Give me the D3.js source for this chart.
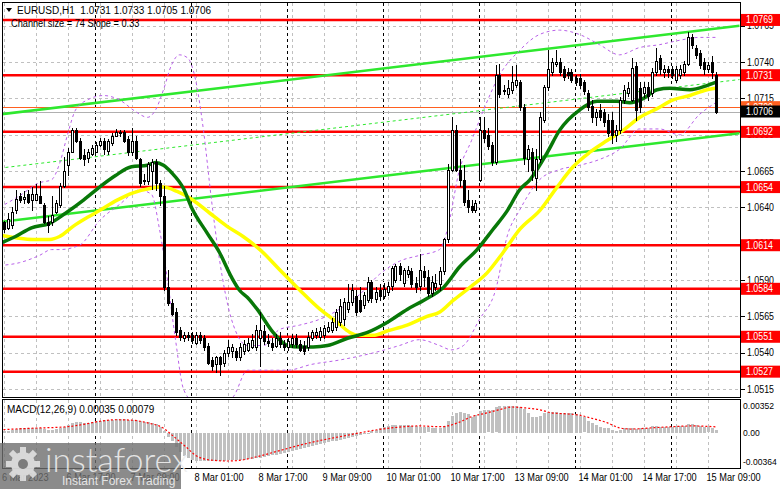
<!DOCTYPE html>
<html>
<head>
<meta charset="utf-8">
<script src="https://cdn.jsdelivr.net/npm/d3@7"></script>
<style>
  body { margin: 0; background: #fff; }
  svg { display: block; font-family: "Liberation Sans", Arial, sans-serif; }
</style>
</head>
<body>
<svg id="chart" width="781" height="489"></svg>
<script>
// EURUSD H1, bar index 0 = 6 Mar 00:00 ... 179 = 15 Mar 11:00
const opens = [1.0628,1.0630,1.0626,1.0628,1.0638,1.0648,1.0646,1.0649,1.0645,1.0645,1.0648,1.0642,1.0630,1.0630,1.0637,1.0642,1.0655,1.0669,1.0678,1.0693,
  1.0686,1.0676,1.0674,1.0677,1.0678,1.0683,1.0686,1.0679,1.0684,1.0689,1.0692,1.0692,1.0687,1.0678,1.0686,1.0673,1.0659,1.0658,1.0665,1.0671,
  1.0657,1.0648,1.0585,1.0574,1.0568,1.0556,1.0550,1.0552,1.0552,1.0547,1.0552,1.0550,1.0545,1.0535,1.0532,1.0537,1.0533,1.0540,1.0541,1.0541,
  1.0537,1.0541,1.0542,1.0544,1.0544,1.0550,1.0555,1.0548,1.0547,1.0545,1.0550,1.0546,1.0544,1.0546,1.0550,1.0546,1.0545,1.0544,1.0550,1.0552,
  1.0551,1.0552,1.0555,1.0556,1.0558,1.0561,1.0563,1.0570,1.0575,1.0579,1.0576,1.0573,1.0576,1.0589,1.0577,1.0583,1.0579,1.0582,1.0586,1.0590,
  1.0600,1.0588,1.0594,1.0596,1.0588,1.0586,1.0596,1.0592,1.0581,1.0585,1.0587,1.0596,1.0618,1.0666,1.0693,1.0666,1.0659,1.0645,1.0641,1.0638,
  1.0659,1.0693,1.0690,1.0683,1.0671,1.0731,1.0720,1.0718,1.0721,1.0724,1.0726,1.0709,1.0673,1.0678,1.0660,1.0673,1.0700,1.0723,1.0733,1.0739,
  1.0740,1.0735,1.0733,1.0733,1.0729,1.0729,1.0726,1.0719,1.0710,1.0702,1.0707,1.0706,1.0700,1.0700,1.0690,1.0693,1.0714,1.0719,1.0714,1.0737,
  1.0722,1.0719,1.0723,1.0719,1.0733,1.0743,1.0733,1.0735,1.0735,1.0728,1.0731,1.0733,1.0739,1.0757,1.0750,1.0746,1.0740,1.0735,1.0740,1.0731];
const highs = [1.0630,1.0631,1.0636,1.0640,1.0652,1.0650,1.0651,1.0652,1.0654,1.0656,1.0658,1.0643,1.0634,1.0648,1.0645,1.0657,1.0675,1.0681,1.0695,1.0695,
  1.0688,1.0680,1.0680,1.0683,1.0685,1.0688,1.0688,1.0687,1.0691,1.0694,1.0693,1.0693,1.0689,1.0695,1.0689,1.0674,1.0663,1.0671,1.0673,1.0673,
  1.0659,1.0655,1.0597,1.0577,1.0571,1.0558,1.0554,1.0554,1.0554,1.0554,1.0554,1.0552,1.0547,1.0537,1.0538,1.0538,1.0542,1.0549,1.0546,1.0543,
  1.0547,1.0549,1.0550,1.0553,1.0559,1.0568,1.0559,1.0553,1.0550,1.0553,1.0554,1.0549,1.0550,1.0553,1.0553,1.0549,1.0548,1.0554,1.0556,1.0557,
  1.0558,1.0559,1.0561,1.0564,1.0570,1.0577,1.0578,1.0587,1.0587,1.0583,1.0585,1.0582,1.0592,1.0590,1.0585,1.0587,1.0588,1.0589,1.0600,1.0601,
  1.0602,1.0598,1.0600,1.0598,1.0592,1.0608,1.0600,1.0597,1.0593,1.0594,1.0599,1.0619,1.0670,1.0702,1.0697,1.0673,1.0669,1.0652,1.0645,1.0645,
  1.0702,1.0702,1.0695,1.0685,1.0738,1.0739,1.0724,1.0728,1.0737,1.0738,1.0728,1.0711,1.0683,1.0681,1.0680,1.0706,1.0724,1.0748,1.0743,1.0748,
  1.0743,1.0737,1.0736,1.0735,1.0731,1.0732,1.0728,1.0721,1.0714,1.0708,1.0711,1.0708,1.0704,1.0706,1.0697,1.0716,1.0724,1.0726,1.0743,1.0740,
  1.0726,1.0726,1.0726,1.0736,1.0750,1.0745,1.0738,1.0737,1.0737,1.0737,1.0738,1.0741,1.0761,1.0759,1.0752,1.0748,1.0743,1.0740,1.0744,1.0733];
const lows = [1.0622,1.0623,1.0625,1.0626,1.0636,1.0644,1.0643,1.0643,1.0638,1.0645,1.0643,1.0629,1.0623,1.0628,1.0636,1.0640,1.0654,1.0662,1.0678,1.0685,
  1.0673,1.0669,1.0671,1.0676,1.0678,1.0682,1.0677,1.0677,1.0683,1.0689,1.0689,1.0685,1.0676,1.0676,1.0673,1.0655,1.0656,1.0656,1.0653,1.0652,
  1.0642,1.0583,1.0573,1.0566,1.0552,1.0549,1.0548,1.0549,1.0547,1.0546,1.0547,1.0542,1.0532,1.0528,1.0527,1.0525,1.0531,1.0538,1.0537,1.0535,
  1.0535,1.0539,1.0541,1.0543,1.0542,1.0531,1.0546,1.0545,1.0542,1.0544,1.0544,1.0542,1.0542,1.0544,1.0544,1.0541,1.0539,1.0542,1.0549,1.0550,
  1.0549,1.0550,1.0554,1.0554,1.0556,1.0559,1.0559,1.0568,1.0573,1.0566,1.0568,1.0571,1.0575,1.0575,1.0575,1.0576,1.0578,1.0580,1.0583,1.0589,
  1.0590,1.0586,1.0592,1.0585,1.0582,1.0583,1.0586,1.0579,1.0579,1.0583,1.0583,1.0594,1.0616,1.0665,1.0665,1.0655,1.0642,1.0637,1.0637,1.0637,
  1.0658,1.0685,1.0680,1.0669,1.0670,1.0716,1.0718,1.0716,1.0719,1.0723,1.0707,1.0670,1.0665,1.0659,1.0652,1.0671,1.0699,1.0721,1.0731,1.0737,
  1.0731,1.0728,1.0729,1.0726,1.0724,1.0722,1.0718,1.0707,1.0699,1.0697,1.0700,1.0696,1.0689,1.0684,1.0686,1.0691,1.0712,1.0717,1.0713,1.0700,
  1.0706,1.0716,1.0714,1.0717,1.0731,1.0732,1.0730,1.0730,1.0729,1.0726,1.0729,1.0731,1.0738,1.0750,1.0743,1.0736,1.0732,1.0733,1.0729,1.0705];
const closes = [1.0626,1.0625,1.0632,1.0637,1.0646,1.0645,1.0647,1.0644,1.0649,1.0649,1.0643,1.0630,1.0628,1.0635,1.0643,1.0655,1.0665,1.0678,1.0693,1.0686,
  1.0674,1.0673,1.0678,1.0681,1.0683,1.0686,1.0680,1.0686,1.0689,1.0692,1.0691,1.0686,1.0678,1.0686,1.0674,1.0657,1.0658,1.0670,1.0671,1.0657,
  1.0648,1.0585,1.0574,1.0567,1.0554,1.0551,1.0552,1.0551,1.0549,1.0552,1.0549,1.0544,1.0533,1.0531,1.0537,1.0532,1.0540,1.0544,1.0544,1.0537,
  1.0544,1.0546,1.0547,1.0549,1.0556,1.0556,1.0548,1.0547,1.0544,1.0550,1.0546,1.0544,1.0548,1.0550,1.0546,1.0542,1.0541,1.0551,1.0554,1.0554,
  1.0555,1.0557,1.0558,1.0561,1.0568,1.0572,1.0575,1.0575,1.0583,1.0568,1.0569,1.0580,1.0589,1.0578,1.0582,1.0579,1.0584,1.0586,1.0598,1.0600,
  1.0594,1.0597,1.0597,1.0587,1.0585,1.0597,1.0592,1.0581,1.0589,1.0588,1.0596,1.0618,1.0666,1.0693,1.0666,1.0659,1.0644,1.0640,1.0638,1.0643,
  1.0693,1.0688,1.0682,1.0671,1.0731,1.0718,1.0721,1.0722,1.0726,1.0728,1.0709,1.0674,1.0680,1.0666,1.0673,1.0702,1.0723,1.0735,1.0740,1.0740,
  1.0733,1.0730,1.0731,1.0728,1.0726,1.0724,1.0720,1.0709,1.0702,1.0706,1.0702,1.0699,1.0691,1.0690,1.0693,1.0714,1.0721,1.0722,1.0736,1.0707,
  1.0709,1.0723,1.0717,1.0733,1.0741,1.0735,1.0735,1.0733,1.0731,1.0735,1.0735,1.0739,1.0757,1.0752,1.0745,1.0738,1.0735,1.0738,1.0733,1.0706];

// moving averages / bands, read as [bar, price]
const maGreen = [[0,1.0615],[4,1.0620],[8,1.0626],[12.5,1.0629],[16.5,1.0636],[21,1.0645],[25,1.0654],[29,1.0662],[33,1.0668],[37,1.0669],[39,1.0671],[41,1.0669],
  [43,1.0664],[46,1.0653],[48,1.0640],[52,1.0622],[55,1.0609],[58,1.0592],[60,1.0583],[62,1.0578],[64.4,1.0570],[68.4,1.0554],[72,1.0545],[75,1.0544],[78.4,1.0544],
  [82,1.0545],[87,1.0550],[92,1.0554],[97,1.0561],[102,1.0570],[106,1.0576],[111,1.0585],[115,1.0599],[119.4,1.0611],[123.4,1.0625],[127,1.0638],[130,1.0652],
  [132.6,1.0659],[137,1.0678],[140,1.0693],[145,1.0707],[149.4,1.0713],[154.4,1.0713],[157.6,1.0712],[161,1.0715],[164.4,1.0721],[167.6,1.0722],[172.6,1.0721],
  [177,1.0724],[179,1.0726]];
const maYellow = [[0,1.0621],[4.4,1.0619],[8.4,1.0618],[12.6,1.0618],[15,1.0620],[18.4,1.0627],[21.9,1.0633],[25.1,1.0638],[29.4,1.0645],[33.4,1.0650],[37.6,1.0653],
  [40.9,1.0654],[44.4,1.0651],[48.4,1.0645],[52.6,1.0636],[56.9,1.0627],[60.9,1.0620],[65.1,1.0611],[70.1,1.0597],[75.1,1.0583],[80.1,1.0570],[84.4,1.0561],
  [87.6,1.0554],[89.4,1.0552],[93.4,1.0552],[96.9,1.0555],[101.9,1.0559],[106.9,1.0565],[110.1,1.0568],[113.4,1.0576],[117.6,1.0585],[121.9,1.0595],[125.9,1.0609],
  [130.1,1.0625],[135.1,1.0638],[139.4,1.0654],[143.4,1.0668],[147.6,1.0678],[151.9,1.0686],[155.9,1.0693],[160.1,1.0702],[164.4,1.0708],[168.4,1.0714],
  [172.6,1.0717],[176.9,1.0721],[179,1.0722]];
const bandUpper = [[0,1.0640],[5,1.0648],[10,1.0657],[13,1.0659],[15,1.0670],[17,1.0690],[19,1.0707],[22,1.0714],[26,1.0717],[30,1.0714],[34,1.0706],[37,1.0702],
  [39,1.0707],[41,1.0721],[43,1.0738],[45,1.0745],[47,1.0743],[49,1.0728],[51,1.0693],[53,1.0645],[55,1.0604],[58,1.0563],[62,1.0545],[66,1.0545],[70,1.0556],
  [75,1.0559],[80,1.0563],[85,1.0570],[90,1.0580],[95,1.0594],[100,1.0603],[105,1.0607],[110,1.0611],[112,1.0625],[115,1.0666],[118,1.0686],[121,1.0707],
  [125,1.0731],[130,1.0748],[135,1.0759],[140,1.0762],[145,1.0759],[150,1.0752],[155,1.0745],[160,1.0750],[165,1.0752],[170,1.0755],[175,1.0757],[179,1.0757]];
const bandLower = [[0,1.0600],[5,1.0602],[10,1.0607],[13,1.0611],[15,1.0611],[20,1.0614],[25,1.0631],[30,1.0642],[35,1.0652],[38,1.0649],[40,1.0625],[42,1.0590],
  [44,1.0549],[46,1.0515],[48,1.0508],[52,1.0508],[58,1.0509],[62,1.0528],[66,1.0528],[72,1.0528],[78,1.0532],[85,1.0535],[95,1.0541],[100,1.0545],[105,1.0549],
  [110,1.0545],[113,1.0542],[116,1.0545],[120,1.0563],[124,1.0583],[127,1.0621],[130,1.0638],[135,1.0659],[140,1.0666],[145,1.0669],[150,1.0673],[155,1.0680],
  [160,1.0694],[165,1.0694],[170,1.0690],[175,1.0704],[179,1.0712]];
// regression channel (bar, price) at both ends
const channelUpper = [[0,1.0704],[185,1.0765]];
const channelLower = [[0,1.0630],[185,1.0691]];

// horizontal levels
const levels = [1.0769, 1.0731, 1.0692, 1.0654, 1.0614, 1.0584, 1.0551, 1.0527];
const priceTicks = [1.0765, 1.0740, 1.0715, 1.0690, 1.0665, 1.0640, 1.0615, 1.0590, 1.0565, 1.0540, 1.0515];
const askPrice = 1.0709, bidPrice = 1.0706;

// MACD(12,26,9) histogram, in units of 0.0001
const macdHist = [3,3,3,4,5,6,6,6,6,6,6,5,4,4,5,6,8,
  10,13,14,14,13,13,14,
  15,16,17,17,17,18,18,18,17,17,17,15,
  14,14,13,12,8,
  2,-5,-11,-18,-25,-30,-33,-35,-36,-36,-36,
  -36,-36,-36,-36,-36,-35.5,-35.5,-35,-35,-34.5,-34,-33.5,
  -33,-32,-31,-30,-29,-28,-27,-25.5,-25,-23.5,-22,-20.5,-19,-18,-17,-15.5,
  -14.5,-13,-12,-11,-10,-8.5,-7.5,-6.5,-5,-4,-2.6,-1.5,0,2,4,6,8,
  9,10,10,10,10,10,9,9,8,8,7,6,6,6,
  9,15,22,26,27,26,25,21,23,28,30,29,30,33,35,35.2,35,35,35,34,31,
  26,21,21,22,26,27,27,27,26,26,26,26,25,22,20,16,13,10,8,
  6.5,6.5,4,2.6,4,6.5,6.5,6.5,5,6.5,6.5,6.5,9,9,8,8,8,8,9,9,9,12,12,10,9,8,7,6,3.5];
const macdSignal = [[0,4],[8,6],[17,8],[21,11],[25,15],[29,17],[33,16.5],[37,13],[41,6],[43.4,-4],[46.8,-19],[49,-29],[52.6,-35],[57,-36.4],[60,-35.5],
  [65,-30],[70,-23],[75,-16],[80,-10],[85,-5],[90,0],[95,4.5],[100,7.5],[105,9],[110,8],[112,9],[115,14],[118,21],[122,26],[125,30],[128,33.5],[132,32],
  [135,30],[138,26],[142,24.5],[145,23],[148,19],[152,13],[155,6.5],[158,5],[163,6.5],[168,8],[173,9],[179,7.9]];
const macdTicks = [[35.2,"0.00352"],[0,"0.00"],[-36.4,"-0.00364"]];

const xLabels = [[0,"6 Mar 2023"],[17,"6 Mar 17:00"],[33,"7 Mar 09:00"],[49,"8 Mar 01:00"],[65,"8 Mar 17:00"],[81,"9 Mar 09:00"],
  [97,"10 Mar 01:00"],[113,"10 Mar 17:00"],[129,"13 Mar 09:00"],[145,"14 Mar 01:00"],[161,"14 Mar 17:00"],[177,"15 Mar 09:00"]];
const daySeparators = [24, 48, 72, 96, 120, 144, 168];

const svg = d3.select("#chart");
const L = 2.5, R = 740.5, T = 2.5, B = 397.5, MT = 399.5, MB = 468.5;

const x = d3.scaleLinear().domain([0, 185]).range([-0.5, 739.5]);
const y = d3.scaleLinear().domain([1.0515, 1.0740]).range([389.1, 62.1]);
const ym = d3.scaleLinear().domain([-36.4, 35.2]).range([461, 405.7]);

// narrow the axis font a little, like the terminal's Tahoma
function squeeze(sel, k) {
  sel.each(function () {
    const n = this.getComputedTextLength();
    d3.select(this).attr("textLength", n * k).attr("lengthAdjust", "spacingAndGlyphs");
  });
}

const defs = svg.append("defs");
defs.append("clipPath").attr("id", "clipMain").append("rect").attr("x", L).attr("y", T).attr("width", R - L).attr("height", B - T);
defs.append("clipPath").attr("id", "clipMacd").append("rect").attr("x", L).attr("y", MT).attr("width", R - L).attr("height", MB - MT);

const main = svg.append("g").attr("clip-path", "url(#clipMain)");
const macd = svg.append("g").attr("clip-path", "url(#clipMacd)");

// grid
const vGrid = d3.range(1, 185, 8);
[[main, T, B], [macd, MT, MB]].forEach(([g, y0, y1]) => {
  g.selectAll(null).data(vGrid).join("line")
    .attr("x1", d => Math.round(x(d)) + 0.5).attr("x2", d => Math.round(x(d)) + 0.5)
    .attr("y1", y0).attr("y2", y1)
    .attr("stroke", "#c0c0c0").attr("stroke-dasharray", "3,3").attr("shape-rendering", "crispEdges");
  g.selectAll(null).data(daySeparators).join("line")
    .attr("x1", d => Math.round(x(d)) - 0.5).attr("x2", d => Math.round(x(d)) - 0.5)
    .attr("y1", y0).attr("y2", y1)
    .attr("stroke", "#000").attr("stroke-dasharray", "3,3").attr("shape-rendering", "crispEdges");
});
main.selectAll(null).data(priceTicks).join("line")
  .attr("x1", L).attr("x2", R).attr("y1", d => Math.round(y(d)) + 0.5).attr("y2", d => Math.round(y(d)) + 0.5)
  .attr("stroke", "#c0c0c0").attr("stroke-dasharray", "3,3").attr("shape-rendering", "crispEdges");

// bid / ask lines
main.append("line").attr("x1", L).attr("x2", R).attr("y1", Math.round(y(askPrice)) + 0.5).attr("y2", Math.round(y(askPrice)) + 0.5)
  .attr("stroke", "#ff6020").attr("shape-rendering", "crispEdges");
main.append("line").attr("x1", L).attr("x2", R).attr("y1", Math.round(y(bidPrice)) + 0.5).attr("y2", Math.round(y(bidPrice)) + 0.5)
  .attr("stroke", "#b0b0b0").attr("shape-rendering", "crispEdges");

// red levels
main.selectAll(null).data(levels).join("line")
  .attr("x1", L).attr("x2", R).attr("y1", d => y(d)).attr("y2", d => y(d))
  .attr("stroke", "#ff0000").attr("stroke-width", 2.5);

// channel
const chLine = d3.line().x(d => x(d[0])).y(d => y(d[1]));
const channelMid = channelUpper.map((d, k) => [d[0], (d[1] + channelLower[k][1]) / 2]);
main.append("path").attr("d", chLine(channelUpper)).attr("fill", "none").attr("stroke", "#2ee82e").attr("stroke-width", 2.5);
main.append("path").attr("d", chLine(channelLower)).attr("fill", "none").attr("stroke", "#2ee82e").attr("stroke-width", 2.5);
main.append("path").attr("d", chLine(channelMid)).attr("fill", "none").attr("stroke", "#2ee82e").attr("stroke-dasharray", "3,3");

// bands
const smooth = d3.line().x(d => x(d[0])).y(d => y(d[1])).curve(d3.curveMonotoneX);
[bandUpper, bandLower].forEach(b => {
  main.append("path").attr("d", smooth(b)).attr("fill", "none").attr("stroke", "#b860e8").attr("stroke-dasharray", "3,3");
});

// moving averages
main.append("path").attr("d", smooth(maYellow)).attr("fill", "none").attr("stroke", "#ffff00").attr("stroke-width", 3.5);
main.append("path").attr("d", smooth(maGreen)).attr("fill", "none").attr("stroke", "#087808").attr("stroke-width", 3.5);

// candles
const bars = d3.range(opens.length);
main.selectAll(null).data(bars).join("line")
  .attr("x1", i => Math.round(x(i)) + 0.5).attr("x2", i => Math.round(x(i)) + 0.5)
  .attr("y1", i => Math.round(y(highs[i]))).attr("y2", i => Math.round(y(lows[i])) + 1)
  .attr("stroke", "#000").attr("shape-rendering", "crispEdges");
main.selectAll(null).data(bars).join("rect")
  .attr("x", i => Math.round(x(i)) - 0.5)
  .attr("y", i => Math.round(y(Math.max(opens[i], closes[i]))) + 0.5)
  .attr("width", 2)
  .attr("height", i => Math.max(0, Math.round(y(Math.min(opens[i], closes[i]))) - Math.round(y(Math.max(opens[i], closes[i])))))
  .attr("fill", i => closes[i] >= opens[i] ? "#fff" : "#000")
  .attr("stroke", "#000").attr("shape-rendering", "crispEdges");

// MACD
macd.selectAll(null).data(bars).join("rect")
  .attr("x", i => Math.round(x(i)) - 1)
  .attr("width", 3)
  .attr("y", i => Math.round(Math.min(ym(0), ym(macdHist[i]))))
  .attr("height", i => Math.max(1, Math.round(Math.abs(ym(macdHist[i]) - ym(0)))))
  .attr("fill", "#c0c0c0");
macd.append("path").attr("d", d3.line().x(d => x(d[0])).y(d => ym(d[1])).curve(d3.curveMonotoneX)(macdSignal))
  .attr("fill", "none").attr("stroke", "#ff0000").attr("stroke-width", 1.2).attr("stroke-dasharray", "2,2");

// frames
svg.append("rect").attr("x", L).attr("y", T).attr("width", R - L).attr("height", B - T)
  .attr("fill", "none").attr("stroke", "#000").attr("shape-rendering", "crispEdges");
svg.append("rect").attr("x", L).attr("y", MT).attr("width", R - L).attr("height", MB - MT)
  .attr("fill", "none").attr("stroke", "#000").attr("shape-rendering", "crispEdges");

// right price axis
const axisR = svg.append("g");
axisR.selectAll(null).data(priceTicks).join("text")
  .attr("x", 747).attr("y", d => y(d) + 3.5)
  .attr("font-size", 10).attr("fill", "#000")
  .text(d => d.toFixed(4))
  .call(squeeze, 0.88);
axisR.selectAll(null).data(priceTicks).join("line")
  .attr("x1", R).attr("x2", R + 4).attr("y1", d => Math.round(y(d)) + 0.5).attr("y2", d => Math.round(y(d)) + 0.5)
  .attr("stroke", "#000").attr("shape-rendering", "crispEdges");

function priceBox(p, fill, color) {
  const yy = y(p);
  axisR.append("rect").attr("x", 741).attr("y", yy - 6).attr("width", 39).attr("height", 12).attr("fill", fill);
  axisR.append("text").attr("x", 746).attr("y", yy + 3.5).attr("font-size", 10).attr("fill", color)
    .text(p.toFixed(4)).call(squeeze, 0.88);
}
levels.forEach(p => priceBox(p, "#ff0000", "#fff"));
priceBox(askPrice, "#ff6020", "#fff");
priceBox(bidPrice, "#000", "#fff");

// MACD axis
axisR.selectAll(null).data(macdTicks).join("text")
  .attr("x", 743).attr("y", d => ym(d[0]) + 3.5)
  .attr("font-size", 9.5).attr("fill", "#000")
  .text(d => d[1])
  .call(squeeze, 0.9);

// time axis
const axisB = svg.append("g");
axisB.selectAll(null).data(xLabels).join("text")
  .attr("x", d => Math.max(2, x(d[0]) - 1)).attr("y", 481)
  .attr("font-size", 10).attr("fill", "#000")
  .text(d => d[1])
  .call(squeeze, 0.92);

// header
svg.append("path").attr("d", "M6,8 L12,8 L9,12 Z").attr("fill", "#000");
svg.append("text").attr("x", 17).attr("y", 14).attr("font-size", 10).attr("fill", "#000")
  .attr("xml:space", "preserve").text("EURUSD,H1  1.0731 1.0733 1.0705 1.0706");
svg.append("text").attr("x", 11).attr("y", 27).attr("font-size", 10).attr("fill", "#000")
  .text("Channel size = 74 Slope = 0.33").call(squeeze, 0.92);
svg.append("text").attr("x", 7).attr("y", 413).attr("font-size", 10).attr("fill", "#000")
  .text("MACD(12,26,9) 0.00035 0.00079");

// watermark
const wm = svg.append("g");
wm.append("rect").attr("x", 0).attr("y", 443).attr("width", 181).attr("height", 46).attr("fill", "#6e6e6e").attr("opacity", 0.8);
const gear = wm.append("g").attr("transform", "translate(23,464)").attr("fill", "#e6e6e6").attr("opacity", 0.85);
d3.range(8).forEach(k => {
  gear.append("rect").attr("x", -3).attr("y", -17).attr("width", 6).attr("height", 8)
    .attr("transform", `rotate(${k * 45})`);
});
gear.append("circle").attr("r", 12);
gear.append("circle").attr("r", 5).attr("fill", "#7a7a7a");
wm.append("text").attr("x", 45).attr("y", 472).attr("font-family", "Lato, 'Open Sans', sans-serif").attr("font-weight", 300)
  .attr("font-size", 34).attr("fill", "#eeeeee").attr("opacity", 0.9).text("instaforex");
wm.append("text").attr("x", 62).attr("y", 485).attr("font-size", 12).attr("fill", "#eeeeee").attr("opacity", 0.9)
  .text("Instant Forex Trading");
</script>
</body>
</html>
